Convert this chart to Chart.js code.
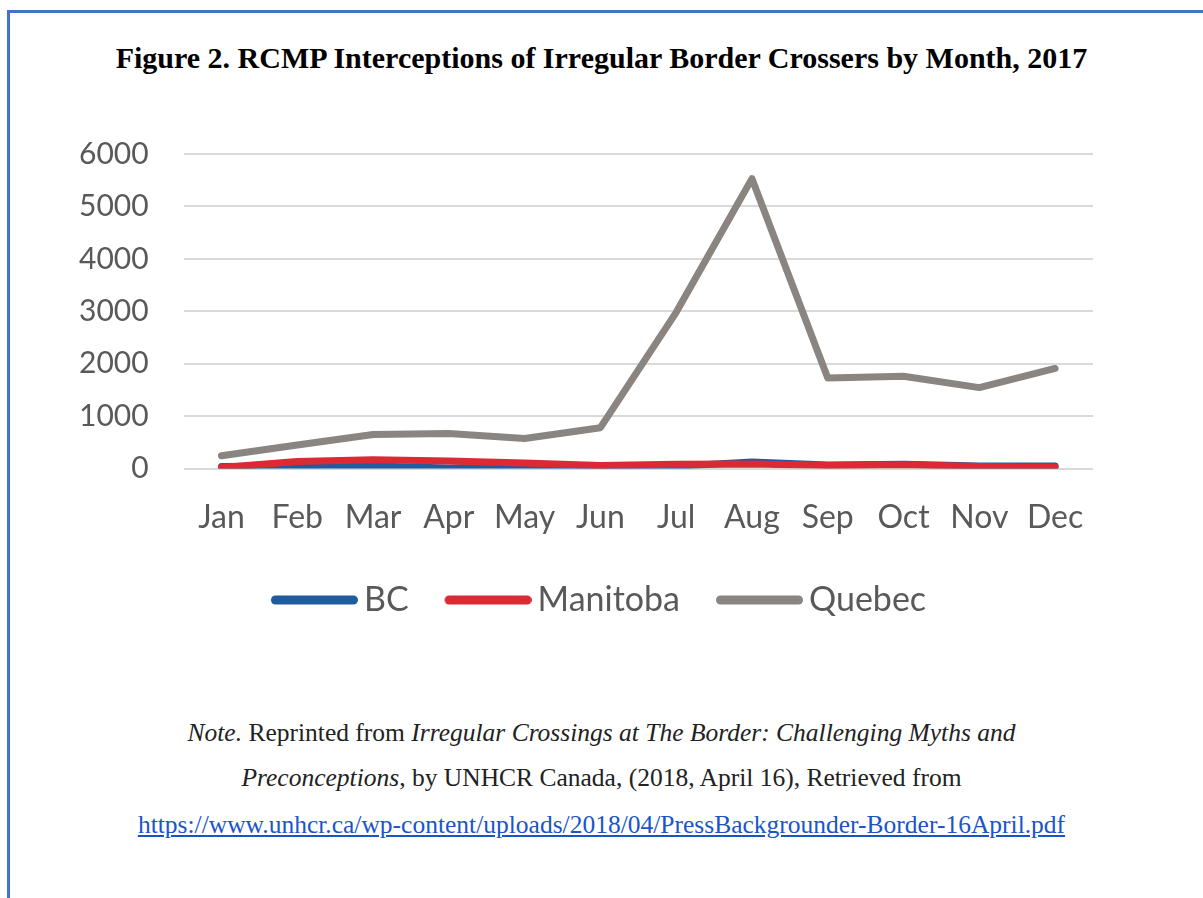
<!DOCTYPE html>
<html>
<head>
<meta charset="utf-8">
<script src="https://cdn.jsdelivr.net/npm/chart.js@4"></script>
<style>
  body { margin: 0; background: #fff; width: 1203px; height: 898px; overflow: hidden; position: relative; }
  .frame { position: absolute; left: 7px; top: 10px; width: 1210px; height: 900px;
           border-top: 3px solid #4472c4; border-left: 3px solid #4472c4; }
  .title { position: absolute; left: 0; top: 41px; width: 1203px; text-align: center;
           font-family: "Liberation Serif", serif; font-weight: bold; font-size: 30px; color: #000; }
  .chartBox { position: absolute; left: 40px; top: 101px; width: 1100px; height: 526px; }
  .note { position: absolute; left: 0; width: 1203px; text-align: center;
          font-family: "Liberation Serif", serif; font-size: 25.5px; color: #222; }
  .note a { color: #1a55c8; }
</style>
</head>
<body>
<div class="frame"></div>
<div class="title">Figure 2. RCMP Interceptions of Irregular Border Crossers by Month, 2017</div>
<div class="chartBox"><canvas id="lineChart"></canvas></div>
<div class="note" style="top:718px"><i>Note.</i> Reprinted from <i>Irregular Crossings at The Border: Challenging Myths and</i></div>
<div class="note" style="top:763px"><i>Preconceptions</i>, by UNHCR Canada, (2018, April 16), Retrieved from</div>
<div class="note" style="top:810px"><a href="#">https://www.unhcr.ca/wp-content/uploads/2018/04/PressBackgrounder-Border-16April.pdf</a></div>

<script>
// months on the x axis
var months = ["Jan", "Feb", "Mar", "Apr", "May", "Jun", "Jul", "Aug", "Sep", "Oct", "Nov", "Dec"];

// interceptions per province
var bcList = [40, 50, 50, 12, 45, 35, 45, 125, 70, 85, 50, 50];
var manitobaList = [20, 135, 170, 145, 105, 60, 85, 90, 60, 75, 40, 25];
var quebecList = [245, 450, 650, 670, 575, 780, 2980, 5530, 1730, 1760, 1545, 1910];

// y axis ticks
var yTicks = [0, 1000, 2000, 3000, 4000, 5000, 6000];

var colors = ["#1f5c9e", "#dc2a35", "#8a8580"];

var ctx = document.getElementById("lineChart").getContext("2d");

// order: lower number is drawn on top (Quebec over Manitoba over BC)
function lineSet(label, data, color, order) {
  return {
    label: label,
    data: data,
    order: order,
    borderColor: color,
    backgroundColor: color,
    borderWidth: 7,
    borderCapStyle: "round",
    borderJoinStyle: "round",
    pointRadius: 0,
    pointHoverRadius: 0,
    pointStyle: "line",
    fill: false,
    tension: 0
  };
}

// legend sample: a thick round-capped line that runs close up to its label
function legendMarker(color) {
  var c = document.createElement("canvas");
  c.width = 118;
  c.height = 12;
  var g = c.getContext("2d");
  g.strokeStyle = color;
  g.lineWidth = 9;
  g.lineCap = "round";
  g.beginPath();
  g.moveTo(35.5, 6);
  g.lineTo(113.5, 6);
  g.stroke();
  return c;
}
var markers = colors.map(legendMarker);

// the legend in the original sits a bit right of the canvas centre
var legendShift = {
  id: "legendShift",
  afterLayout: function (chart) {
    chart.legend.left += 20;
    chart.legend.right += 20;
  }
};

var myChart = new Chart(ctx, {
  type: "line",
  data: {
    labels: months,
    datasets: [
      lineSet("BC", bcList, colors[0], 3),
      lineSet("Manitoba", manitobaList, colors[1], 2),
      lineSet("Quebec", quebecList, colors[2], 1)
    ]
  },
  plugins: [legendShift],
  options: {
    responsive: true,
    maintainAspectRatio: false,
    animation: false,
    layout: { padding: { left: 4, right: 47, top: 10, bottom: 0 } },
    plugins: {
      tooltip: { enabled: false },
      legend: {
        position: "bottom",
        labels: {
          usePointStyle: true,
          pointStyleWidth: 96,
          padding: 16,
          color: "#595959",
          font: { family: "Lato", size: 34 },
          generateLabels: function (chart) {
            var items = Chart.defaults.plugins.legend.labels.generateLabels(chart);
            items.forEach(function (it) {
              it.pointStyle = markers[it.datasetIndex];
            });
            // keep BC, Manitoba, Quebec order in the legend
            items.sort(function (a, b) { return a.datasetIndex - b.datasetIndex; });
            return items;
          }
        }
      }
    },
    scales: {
      x: {
        offset: true,
        grid: { display: false, drawTicks: false },
        border: { display: false },
        ticks: { color: "#595959", padding: 30, maxRotation: 0, font: { family: "Lato", size: 32 } }
      },
      y: {
        min: 0,
        max: 6000,
        afterBuildTicks: function (axis) {
          axis.ticks = yTicks.map(function (v) { return { value: v }; });
        },
        grid: { color: "#d9d9d9", lineWidth: 2, drawTicks: false },
        border: { display: false },
        ticks: {
          color: "#595959",
          padding: 35,
          font: { family: "Lato", size: 30 },
          callback: function (value) { return String(value); }
        }
      }
    }
  }
});
</script>
</body>
</html>
